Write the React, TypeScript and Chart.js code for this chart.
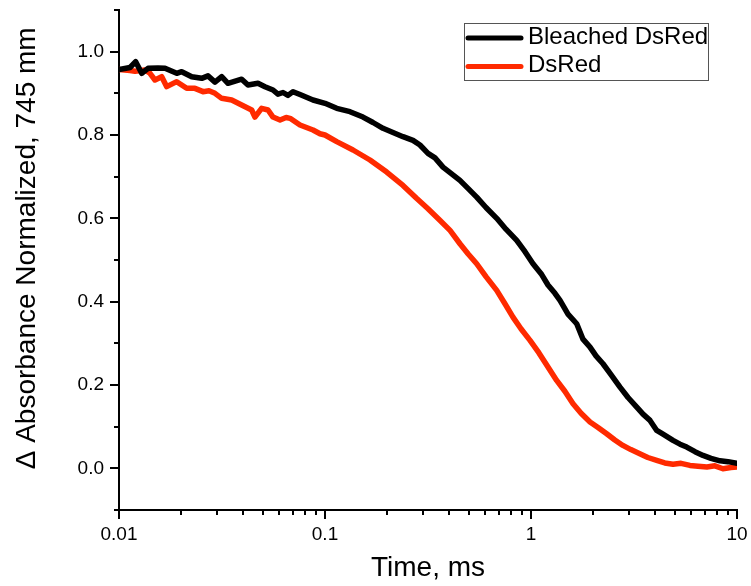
import React, { useEffect, useRef } from "react";
import { Chart, registerables } from "chart.js";

Chart.register(...registerables);

// ---- Data ----
const bleachedTimes = [
  0.01, 0.01131, 0.01205, 0.01289, 0.01383, 0.01546, 0.01672, 0.01906, 0.02016, 0.02254,
  0.02521, 0.02704, 0.02924, 0.03151, 0.03381, 0.0394, 0.04228, 0.04727, 0.05112, 0.05592,
  0.05911, 0.06253, 0.06612, 0.06994, 0.07561, 0.08744, 0.1, 0.114, 0.1322, 0.1529,
  0.171, 0.1912, 0.2138, 0.2391, 0.2674, 0.2891, 0.3162, 0.342, 0.3739, 0.4089,
  0.452, 0.4944, 0.545, 0.6046, 0.6817, 0.7559, 0.8524, 0.9352, 1.0226, 1.127,
  1.209, 1.307, 1.383, 1.512, 1.667, 1.788, 1.934, 2.068, 2.236, 2.445,
  2.704, 2.958, 3.261, 3.498, 3.782, 4.077, 4.373, 4.891, 5.288, 5.7,
  6.253, 6.839, 7.478, 8.271, 9.045, 10,
];
const bleachedValues = [
  0.957, 0.962, 0.976, 0.948, 0.96, 0.961, 0.96, 0.948, 0.952, 0.94,
  0.936, 0.942, 0.927, 0.94, 0.924, 0.934, 0.92, 0.924, 0.916, 0.908,
  0.898, 0.902, 0.895, 0.904, 0.897, 0.884, 0.876, 0.864, 0.856, 0.843,
  0.83, 0.816, 0.806, 0.796, 0.787, 0.776, 0.756, 0.745, 0.723, 0.708,
  0.691, 0.672, 0.651, 0.626, 0.6, 0.574, 0.547, 0.52, 0.491, 0.465,
  0.44, 0.42, 0.403, 0.37, 0.347, 0.31, 0.291, 0.27, 0.251, 0.225,
  0.195, 0.17, 0.147, 0.13, 0.115, 0.091, 0.082, 0.067, 0.058, 0.051,
  0.04, 0.031, 0.024, 0.018, 0.016, 0.012,
];

const dsRedTimes = [
  0.01, 0.01131, 0.01196, 0.01337, 0.01414, 0.01495, 0.01612, 0.01705, 0.01906, 0.02131,
  0.02337, 0.02558, 0.02735, 0.02924, 0.03151, 0.03524, 0.0394, 0.04406, 0.04569, 0.04923,
  0.0529, 0.05592, 0.0605, 0.06474, 0.06768, 0.07561, 0.08744, 0.09456, 0.1, 0.114,
  0.1368, 0.1653, 0.1993, 0.2391, 0.2781, 0.3162, 0.362, 0.4045, 0.452, 0.4944,
  0.545, 0.6046, 0.6817, 0.7474, 0.8173, 0.8938, 0.989, 1.0929, 1.209, 1.332,
  1.46, 1.6, 1.75, 1.934, 2.115, 2.33, 2.552, 2.792, 3.053, 3.374,
  3.69, 4.077, 4.459, 4.891, 5.348, 5.91, 6.464, 7.142, 7.812, 8.544,
  9.344, 10,
];
const dsRedValues = [
  0.957, 0.955, 0.953, 0.956, 0.948, 0.932, 0.94, 0.916, 0.928, 0.912,
  0.912, 0.904, 0.906, 0.9, 0.888, 0.884, 0.872, 0.86, 0.843, 0.864,
  0.86, 0.843, 0.836, 0.842, 0.84, 0.824, 0.812, 0.803, 0.8, 0.784,
  0.764, 0.74, 0.711, 0.679, 0.648, 0.623, 0.595, 0.571, 0.539, 0.515,
  0.491, 0.46, 0.427, 0.395, 0.363, 0.335, 0.307, 0.277, 0.243, 0.211,
  0.185, 0.155, 0.132, 0.111, 0.098, 0.083, 0.068, 0.055, 0.045, 0.035,
  0.026, 0.019, 0.013, 0.01, 0.012, 0.007, 0.005, 0.003, 0.006, -0.001,
  0.002, 0.003,
];

const seriesLabels = ["Bleached DsRed", "DsRed"];
const xMajorTicks = [0.01, 0.1, 1, 10];
const xTickLabels = ["0.01", "0.1", "1", "10"];
const xMinorTicks = [
  0.02, 0.03, 0.04, 0.05, 0.06, 0.07, 0.08, 0.09,
  0.2, 0.3, 0.4, 0.5, 0.6, 0.7, 0.8, 0.9,
  2, 3, 4, 5, 6, 7, 8, 9,
];
const yMajorTicks = [0, 0.2, 0.4, 0.6, 0.8, 1.0];
const yTickLabels = ["0.0", "0.2", "0.4", "0.6", "0.8", "1.0"];
const yMinorTicks = [-0.1, 0.1, 0.3, 0.5, 0.7, 0.9, 1.1];

const FONT = "'Liberation Sans', Arial, Helvetica, sans-serif";

const tickMarksPlugin = {
  id: "tickMarks",
  afterDraw(chart: any) {
    const ctx = chart.ctx;
    const xs = chart.scales.x;
    const ys = chart.scales.y;
    const area = chart.chartArea;
    ctx.save();
    ctx.strokeStyle = "#000";
    ctx.lineWidth = 2;
    ctx.beginPath();
    xMajorTicks.forEach((v) => {
      const px = Math.round(xs.getPixelForValue(v));
      ctx.moveTo(px, area.bottom);
      ctx.lineTo(px, area.bottom + 9);
    });
    xMinorTicks.forEach((v) => {
      const px = Math.round(xs.getPixelForValue(v));
      ctx.moveTo(px, area.bottom);
      ctx.lineTo(px, area.bottom + 5);
    });
    yMajorTicks.forEach((v) => {
      const py = Math.round(ys.getPixelForValue(v));
      ctx.moveTo(area.left, py);
      ctx.lineTo(area.left - 9, py);
    });
    yMinorTicks.forEach((v) => {
      const py = Math.round(ys.getPixelForValue(v));
      ctx.moveTo(area.left, py);
      ctx.lineTo(area.left - 5, py);
    });
    ctx.stroke();

    // legend box
    const bx = area.right - 273;
    const by = area.top + 13;
    const bw = 244;
    const bh = 57;
    ctx.lineWidth = 1;
    ctx.strokeStyle = "#555";
    ctx.strokeRect(bx + 0.5, by + 0.5, bw, bh);
    ctx.font = `24px ${FONT}`;
    ctx.textBaseline = "middle";
    ctx.textAlign = "left";
    chart.data.datasets.forEach((ds: any, i: number) => {
      const cy = by + 15 + i * 28.5;
      ctx.strokeStyle = ds.borderColor;
      ctx.lineWidth = 5;
      ctx.lineCap = "round";
      ctx.beginPath();
      ctx.moveTo(bx + 4, cy);
      ctx.lineTo(bx + 57, cy);
      ctx.stroke();
      ctx.fillStyle = "#000";
      ctx.fillText(ds.label, bx + 64, cy - 1);
    });
    ctx.restore();
  },
};

export default function App() {
  const ref = useRef<HTMLCanvasElement | null>(null);
  useEffect(() => {
    if (!ref.current) return;
    const chart = new Chart(ref.current, {
      type: "line",
      data: {
        datasets: [
          {
            label: seriesLabels[0],
            data: bleachedTimes.map((t, i) => ({ x: t, y: bleachedValues[i] })),
            borderColor: "#000000",
            backgroundColor: "#000000",
            borderWidth: 5.5,
            pointRadius: 0,
            tension: 0,
            borderJoinStyle: "round",
            borderCapStyle: "round",
          },
          {
            label: seriesLabels[1],
            data: dsRedTimes.map((t, i) => ({ x: t, y: dsRedValues[i] })),
            borderColor: "#FF2A00",
            backgroundColor: "#FF2A00",
            borderWidth: 5.5,
            pointRadius: 0,
            tension: 0,
            borderJoinStyle: "round",
            borderCapStyle: "round",
          },
        ],
      },
      options: {
        animation: false,
        responsive: true,
        maintainAspectRatio: false,
        layout: { padding: { top: 10, right: 14, left: 0, bottom: 0 } },
        plugins: { legend: { display: false }, tooltip: { enabled: false } },
        scales: {
          x: {
            type: "logarithmic",
            min: 0.01,
            max: 10,
            grid: { display: false, drawTicks: false },
            border: { display: true, color: "#000", width: 2 },
            afterBuildTicks: (scale: any) => {
              scale.ticks = xMajorTicks.map((v) => ({ value: v }));
            },
            afterFit: (scale: any) => {
              scale.height = 76;
              scale.paddingLeft = 0;
              scale.paddingRight = 0;
            },
            ticks: {
              autoSkip: false,
              maxRotation: 0,
              padding: 13,
              color: "#000",
              font: { family: FONT, size: 19 },
              callback: (v: any) => {
                const i = xMajorTicks.indexOf(Number(v));
                return i >= 0 ? xTickLabels[i] : "";
              },
            },
            title: {
              display: true,
              text: "Time, ms",
              color: "#000",
              font: { family: FONT, size: 28 },
              padding: { top: 0, bottom: 1 },
            },
          },
          y: {
            min: -0.1,
            max: 1.1,
            grid: { display: false, drawTicks: false },
            border: { display: true, color: "#000", width: 2 },
            afterBuildTicks: (scale: any) => {
              scale.ticks = yMajorTicks.map((v) => ({ value: v }));
            },
            afterFit: (scale: any) => {
              scale.width = 119;
              scale.paddingTop = 0;
              scale.paddingBottom = 0;
            },
            ticks: {
              autoSkip: false,
              padding: 15,
              color: "#000",
              font: { family: FONT, size: 19 },
              callback: (v: any) => {
                const i = yMajorTicks.findIndex((m) => Math.abs(m - Number(v)) < 1e-6);
                return i >= 0 ? yTickLabels[i] : "";
              },
            },
            title: {
              display: true,
              text: "   Δ Absorbance Normalized, 745 mm",
              color: "#000",
              font: { family: FONT, size: 28 },
              padding: { top: 10, bottom: 0 },
            },
          },
        },
      },
      plugins: [tickMarksPlugin],
    } as any);
    return () => chart.destroy();
  }, []);
  return (
    <div style={{ position: "absolute", left: 0, top: 0, width: 751, height: 586 }}>
      <canvas ref={ref} />
    </div>
  );
}
